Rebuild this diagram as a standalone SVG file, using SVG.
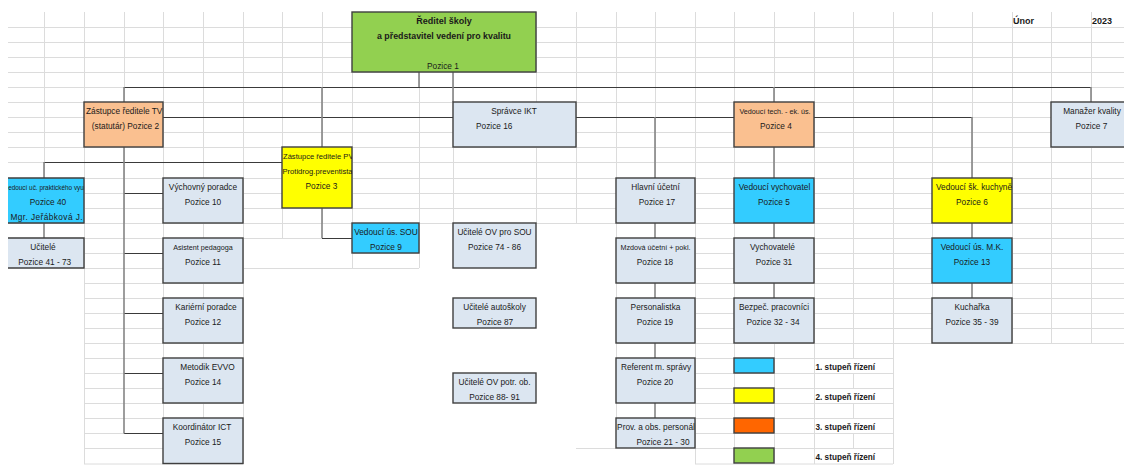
<svg xmlns="http://www.w3.org/2000/svg" width="1124" height="469" viewBox="0 0 1124 469">
<defs>
<style>
.grid{stroke:#dcdcdc;stroke-width:1;fill:none}
.box{stroke:#3f3f3f;stroke-width:1.4}
.lt{fill:#dce6f1}.or{fill:#fac090}.cy{fill:#33ccff}.ye{fill:#ffff00}.gr{fill:#92d050}.og{fill:#ff6600}
text{font-family:"Liberation Sans",Arial,sans-serif;font-size:8.3px;fill:#1a1a1a;text-anchor:middle}
.s{font-size:7.2px}
.b{font-weight:bold}
.l{text-anchor:start}
.h{stroke:#3a3a3a;stroke-width:1.1;fill:none}
.v{stroke:#858585;stroke-width:1.6;fill:none}
</style>
<clipPath id="c2"><rect x="84" y="102" width="79" height="45"/></clipPath>
<clipPath id="c3"><rect x="282" y="147" width="70" height="61"/></clipPath>
<clipPath id="c40"><rect x="8" y="178" width="76" height="45"/></clipPath>
</defs>
<rect x="0" y="0" width="1124" height="469" fill="#ffffff"/>
<g id="gridlines" class="grid">
<path d="M44.5 12V223M84.5 12V223M124.5 12V223M163.5 12V223M203.5 12V223M243.5 12V223M282.5 12V223M322.5 12V223M352.5 12V223M419.5 12V223M453.5 12V223M536.5 12V223M576.5 12V223M616.5 12V223M655.5 12V223M695.5 12V223M734.5 12V223M774.5 12V223M814.5 12V223M853.5 12V223M893.5 12V223M932.5 12V223M972.5 12V223M1012.5 12V223M1051.5 12V223M1091.5 12V223"/>
<path d="M8 27.5H1124M8 42.5H1124M8 57.5H1124M8 72.5H1124M8 87.5H1124M8 102.5H1124M8 117.5H1124M8 132.5H1124M8 147.5H1124M8 162.5H1124M8 178.5H1124M8 193.5H1124M8 208.5H1124M8 223.5H1124"/>
<path d="M84 238.5H243M84 253.5H243M84 268.5H243M84 283.5H243M84 298.5H243M84 313.5H243M84 328.5H243M84 343.5H243M84 358.5H243M84 373.5H243M84 388.5H243M84 403.5H243M84 418.5H243M84 433.5H243M84 448.5H243M84 464H243M84.5 223V464M163.5 223V464M203.5 223V464M243.5 223V464"/>
<path d="M243 238.5H352M352 253.5H419M243 268.5H419M282.5 223V238M352.5 253V268M419.5 223V268"/>
<path d="M616 238.5H1124M616 253.5H1124M616 268.5H1124M616 283.5H1124M616 298.5H1124M616 313.5H1124M616 328.5H1124M616 343.5H1124M616.5 223V343M695.5 223V343M734.5 223V343M774.5 223V343M814.5 223V343M853.5 223V343M893.5 223V343M932.5 223V343M1012.5 223V343M1051.5 223V343M1091.5 223V343"/>
<path d="M695 358.5H893M695 373.5H893M695 388.5H893M695 403.5H893M695 418.5H893M695 433.5H893M695 448.5H893M695 464H893M695.5 343V464M734.5 343V464M774.5 343V464M814.5 343V464M893.5 343V464M853.5 343V358M853.5 373V388M853.5 403V418M853.5 433V448"/>
<path d="M616.5 343V448M576 448.5H616"/>
</g>
<g id="connectors">
<path class="h" d="M124 87.5H1091M163 117.5H734M814 117.5H972M44 162.5H282M124 193.5H163M124 253.5H163M124 313.5H163M124 373.5H163M124 433.5H163M322 238.5H352"/>
<path class="v" d="M419 72V87M453 72V102M124 87V102M322 87V147M774 87V102M1091 87V102M124 147V433.5M44 162V178M44 223V238M322 208V238M655 117V178M655 223V238M655 283V298M655 343V358M655 403V418M774 147V178M774 223V238M774 283V298M972 117V178M972 223V238M972 283V298"/>
</g>
<g id="date">
<text class="b l" x="1013" y="24" style="font-size:9px">Únor</text>
<text class="b l" x="1092" y="24" style="font-size:9px">2023</text>
</g>
<g id="n1"><rect class="box gr" x="352" y="12" width="184" height="60"/>
<text class="b" x="444" y="24" style="font-size:9px">Ředitel školy</text>
<text class="b" x="444" y="39" style="font-size:8.8px">a představitel vedení pro kvalitu</text>
<text x="443" y="69">Pozice 1</text></g>
<g id="n2"><rect class="box or" x="84" y="102" width="79" height="45"/>
<text class="l" x="86" y="114" clip-path="url(#c2)">Zástupce ředitele TV</text>
<text x="125.5" y="129">(statutár) Pozice 2</text></g>
<g id="n16"><rect class="box lt" x="453" y="102" width="123" height="45"/>
<text x="514" y="114">Správce IKT</text>
<text class="l" x="476" y="129">Pozice 16</text></g>
<g id="n4"><rect class="box or" x="734" y="102" width="80" height="45"/>
<text class="s" x="775" y="114">Vedoucí tech. - ek. ús.</text>
<text x="776" y="129">Pozice 4</text></g>
<g id="n7"><rect class="box lt" x="1051" y="102" width="80" height="45"/>
<text x="1092" y="114">Manažer kvality</text>
<text x="1091.5" y="129">Pozice 7</text></g>
<g id="n3"><rect class="box ye" x="282" y="147" width="70" height="61"/>
<g clip-path="url(#c3)">
<text class="l" x="283" y="159" style="font-size:7.6px">Zástupce ředitele PV</text>
<text class="l" x="282.5" y="174" style="font-size:7.6px">Protidrog.preventista</text></g>
<text x="321.5" y="189">Pozice 3</text></g>
<g id="n40"><rect class="cy" x="8" y="178" width="76" height="45"/>
<path class="box" fill="none" d="M8 178H84V223H8"/>
<text x="46" y="190" style="font-size:6.4px" clip-path="url(#c40)">edoucí uč. praktického vyu</text>
<text x="48" y="205">Pozice 40</text>
<text x="46.5" y="220" textLength="72">Mgr. Jeřábková J.</text></g>
<g id="n41"><rect class="lt" x="8" y="238" width="76" height="30"/>
<path class="box" fill="none" d="M8 238H84V268H8"/>
<text x="43" y="250">Učitelé</text>
<text x="44.7" y="265">Pozice 41 - 73</text></g>
<g id="n10"><rect class="box lt" x="163" y="178" width="80" height="45"/>
<text x="203" y="190">Výchovný poradce</text>
<text x="203" y="205">Pozice 10</text></g>
<g id="n11"><rect class="box lt" x="163" y="238" width="80" height="45"/>
<text class="s" x="203" y="250">Asistent pedagoga</text>
<text x="203" y="265">Pozice 11</text></g>
<g id="n12"><rect class="box lt" x="163" y="298" width="80" height="45"/>
<text x="206" y="310">Kariérní poradce</text>
<text x="203" y="325">Pozice 12</text></g>
<g id="n14"><rect class="box lt" x="163" y="358" width="80" height="45"/>
<text x="207.5" y="370">Metodik EVVO</text>
<text x="203" y="385">Pozice 14</text></g>
<g id="n15"><rect class="box lt" x="163" y="418" width="80" height="45.5"/>
<text x="202" y="430">Koordinátor ICT</text>
<text x="203" y="445">Pozice 15</text></g>
<g id="n9"><rect class="box cy" x="352" y="223" width="67" height="30"/>
<text x="386" y="235">Vedoucí ús. SOU</text>
<text x="386" y="250">Pozice 9</text></g>
<g id="n74"><rect class="box lt" x="453" y="223" width="83" height="45"/>
<text x="494.5" y="235">Učitelé OV pro SOU</text>
<text x="494.5" y="250">Pozice 74 - 86</text></g>
<g id="n87"><rect class="box lt" x="453" y="298" width="83" height="30"/>
<text x="494.5" y="310">Učitelé autoškoly</text>
<text x="495" y="325">Pozice 87</text></g>
<g id="n88"><rect class="box lt" x="453" y="373" width="83" height="30"/>
<text x="494.5" y="385">Učitelé OV potr. ob.</text>
<text x="494.5" y="400">Pozice 88- 91</text></g>
<g id="n17"><rect class="box lt" x="616" y="178" width="79" height="45"/>
<text x="655.5" y="190">Hlavní účetní</text>
<text x="657" y="205">Pozice 17</text></g>
<g id="n18"><rect class="box lt" x="616" y="238" width="79" height="45"/>
<text class="s" x="655.5" y="250">Mzdová účetní + pokl.</text>
<text x="655" y="265">Pozice 18</text></g>
<g id="n19"><rect class="box lt" x="616" y="298" width="79" height="45"/>
<text x="655.5" y="310">Personalistka</text>
<text x="655" y="325">Pozice 19</text></g>
<g id="n20"><rect class="box lt" x="616" y="358" width="79" height="45"/>
<text x="656" y="370">Referent m. správy</text>
<text x="655" y="385">Pozice 20</text></g>
<g id="n21"><rect class="box lt" x="616" y="418" width="79" height="30"/>
<text x="656" y="430">Prov. a obs. personál</text>
<text x="663" y="445">Pozice 21 - 30</text></g>
<g id="n5"><rect class="box cy" x="734" y="178" width="80" height="45"/>
<text x="774.5" y="190">Vedoucí vychovatel</text>
<text x="774" y="205">Pozice 5</text></g>
<g id="n31"><rect class="box lt" x="734" y="238" width="80" height="45"/>
<text x="772.5" y="250">Vychovatelé</text>
<text x="774" y="265">Pozice 31</text></g>
<g id="n32"><rect class="box lt" x="734" y="298" width="80" height="45"/>
<text x="774" y="310">Bezpeč. pracovníci</text>
<text x="773" y="325">Pozice 32 - 34</text></g>
<g id="n6"><rect class="box ye" x="932" y="178" width="80" height="45"/>
<text x="974" y="190">Vedoucí šk. kuchyně</text>
<text x="972" y="205">Pozice 6</text></g>
<g id="n13"><rect class="box cy" x="932" y="238" width="80" height="45"/>
<text x="972" y="250">Vedoucí ús. M.K.</text>
<text x="972" y="265">Pozice 13</text></g>
<g id="n35"><rect class="box lt" x="932" y="298" width="80" height="45"/>
<text x="972" y="310">Kuchařka</text>
<text x="972" y="325">Pozice 35 - 39</text></g>
<g id="legend">
<rect class="box cy" x="734" y="358" width="40" height="15"/>
<rect class="box ye" x="734" y="388" width="40" height="15"/>
<rect class="box og" x="734" y="418" width="40" height="15"/>
<rect class="box gr" x="734" y="448" width="40" height="15"/>
<text class="b l" x="815.5" y="370" style="font-size:8.2px">1. stupeň řízení</text>
<text class="b l" x="815.5" y="400" style="font-size:8.2px">2. stupeň řízení</text>
<text class="b l" x="815.5" y="430" style="font-size:8.2px">3. stupeň řízení</text>
<text class="b l" x="815.5" y="460" style="font-size:8.2px">4. stupeň řízení</text>
</g>
</svg>
